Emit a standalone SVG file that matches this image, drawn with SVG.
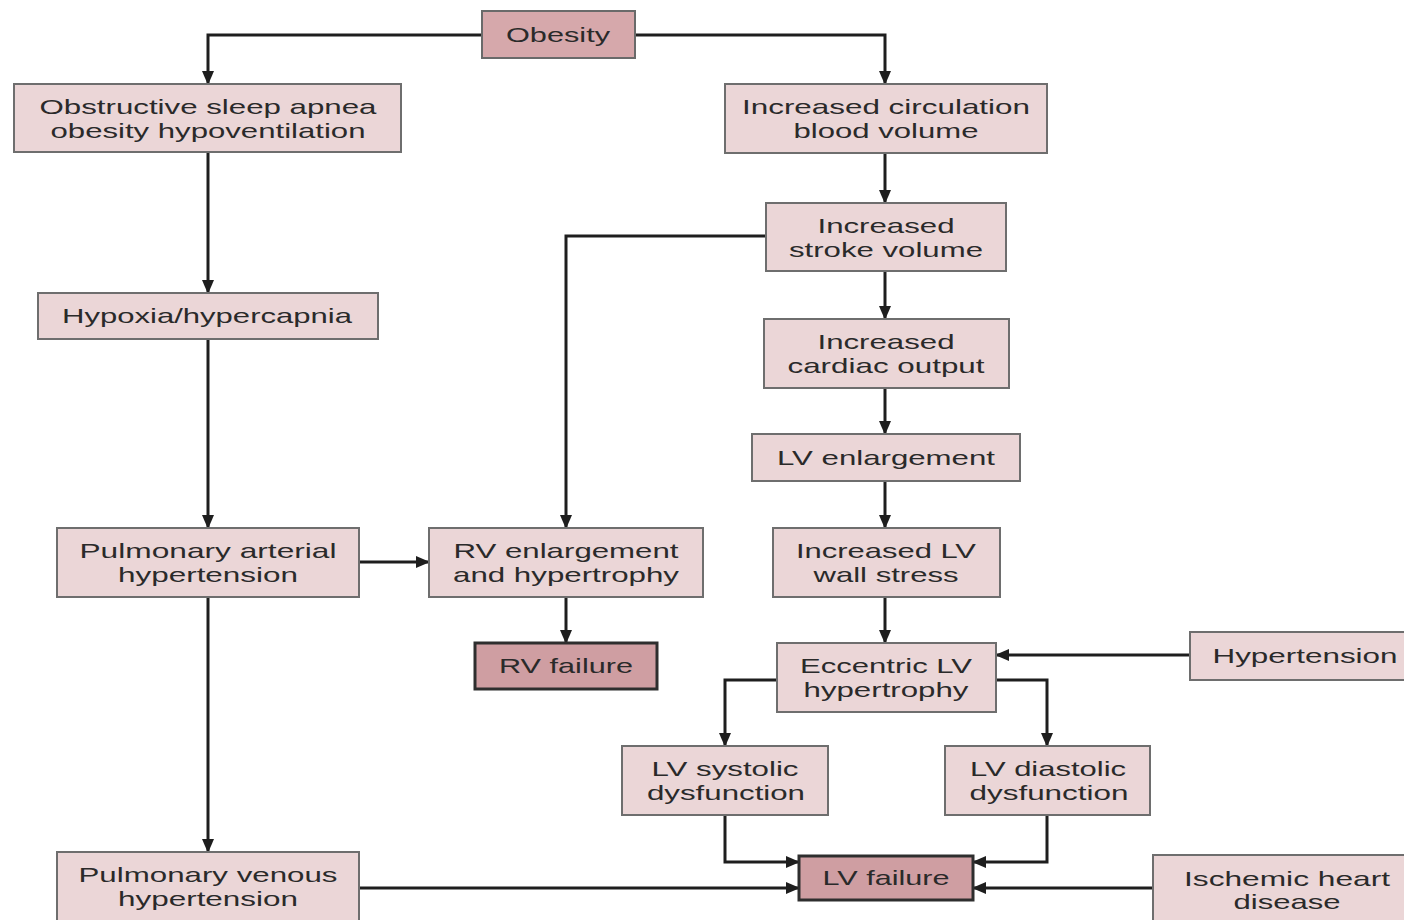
<svg xmlns="http://www.w3.org/2000/svg" width="1404" height="920" viewBox="0 0 1404 920">
<defs>
<marker id="arr" markerWidth="14" markerHeight="12" refX="13" refY="6" orient="auto" markerUnits="userSpaceOnUse">
<path d="M0,0 L14,6 L0,12 Z" fill="#1e1e1e"/>
</marker>
</defs>
<style>
.n rect{fill:#ebd6d7;stroke:#6e6e6e;stroke-width:2}
.n.top rect{fill:#d6a8ab;stroke:#6a6a6a}
.n.fail rect{fill:#cf9ea2;stroke:#2e2e2e;stroke-width:3}
.n text{font-family:"Liberation Sans",Arial,sans-serif;font-size:21px;fill:#2a2a2a;text-anchor:middle}
#connectors path{fill:none;stroke:#1e1e1e;stroke-width:3;marker-end:url(#arr)}
</style>
<rect width="1404" height="920" fill="#ffffff"/>
<g id="connectors">
<path d="M482,35 H208 V84"/>
<path d="M635,35 H885 V84"/>
<path d="M208,152 V293"/>
<path d="M208,339 V528"/>
<path d="M208,597 V852"/>
<path d="M359,562 H429"/>
<path d="M885,153 V203"/>
<path d="M766,236 H566 V528"/>
<path d="M885,271 V319"/>
<path d="M885,388 V434"/>
<path d="M885,481 V528"/>
<path d="M885,597 V643"/>
<path d="M566,597 V643"/>
<path d="M1190,655 H996"/>
<path d="M777,680 H725 V746"/>
<path d="M996,680 H1047 V746"/>
<path d="M725,815 V862 H799"/>
<path d="M1047,815 V862 H973"/>
<path d="M359,888 H799"/>
<path d="M1153,888 H973"/>
</g>
<g id="obesity" class="n top"><rect x="482" y="11" width="153" height="47"/><text x="558" y="42" textLength="104" lengthAdjust="spacingAndGlyphs">Obesity</text></g>
<g id="osa" class="n"><rect x="14" y="84" width="387" height="68"/><text x="208" y="114" textLength="337" lengthAdjust="spacingAndGlyphs">Obstructive sleep apnea</text><text x="208" y="138" textLength="315" lengthAdjust="spacingAndGlyphs">obesity hypoventilation</text></g>
<g id="circ" class="n"><rect x="725" y="84" width="322" height="69"/><text x="886" y="114" textLength="288" lengthAdjust="spacingAndGlyphs">Increased circulation</text><text x="886" y="138" textLength="185" lengthAdjust="spacingAndGlyphs">blood volume</text></g>
<g id="stroke" class="n"><rect x="766" y="203" width="240" height="68"/><text x="886" y="233" textLength="137" lengthAdjust="spacingAndGlyphs">Increased</text><text x="886" y="257" textLength="194" lengthAdjust="spacingAndGlyphs">stroke volume</text></g>
<g id="hypoxia" class="n"><rect x="38" y="293" width="340" height="46"/><text x="207" y="323" textLength="290" lengthAdjust="spacingAndGlyphs">Hypoxia/hypercapnia</text></g>
<g id="co" class="n"><rect x="764" y="319" width="245" height="69"/><text x="886" y="349" textLength="137" lengthAdjust="spacingAndGlyphs">Increased</text><text x="886" y="373" textLength="197" lengthAdjust="spacingAndGlyphs">cardiac output</text></g>
<g id="lvenl" class="n"><rect x="752" y="434" width="268" height="47"/><text x="886" y="465" textLength="218" lengthAdjust="spacingAndGlyphs">LV enlargement</text></g>
<g id="pah" class="n"><rect x="57" y="528" width="302" height="69"/><text x="208" y="558" textLength="257" lengthAdjust="spacingAndGlyphs">Pulmonary arterial</text><text x="208" y="582" textLength="180" lengthAdjust="spacingAndGlyphs">hypertension</text></g>
<g id="rvenl" class="n"><rect x="429" y="528" width="274" height="69"/><text x="566" y="558" textLength="225" lengthAdjust="spacingAndGlyphs">RV enlargement</text><text x="566" y="582" textLength="226" lengthAdjust="spacingAndGlyphs">and hypertrophy</text></g>
<g id="wall" class="n"><rect x="773" y="528" width="227" height="69"/><text x="886" y="558" textLength="180" lengthAdjust="spacingAndGlyphs">Increased LV</text><text x="886" y="582" textLength="145" lengthAdjust="spacingAndGlyphs">wall stress</text></g>
<g id="rvfail" class="n fail"><rect x="475" y="643" width="182" height="46"/><text x="566" y="673" textLength="134" lengthAdjust="spacingAndGlyphs">RV failure</text></g>
<g id="ecc" class="n"><rect x="777" y="643" width="219" height="69"/><text x="886" y="673" textLength="172" lengthAdjust="spacingAndGlyphs">Eccentric LV</text><text x="886" y="697" textLength="165" lengthAdjust="spacingAndGlyphs">hypertrophy</text></g>
<g id="htn" class="n"><rect x="1190" y="632" width="220" height="48"/><text x="1305" y="663" textLength="185" lengthAdjust="spacingAndGlyphs">Hypertension</text></g>
<g id="sys" class="n"><rect x="622" y="746" width="206" height="69"/><text x="725" y="776" textLength="147" lengthAdjust="spacingAndGlyphs">LV systolic</text><text x="726" y="800" textLength="158" lengthAdjust="spacingAndGlyphs">dysfunction</text></g>
<g id="dia" class="n"><rect x="945" y="746" width="205" height="69"/><text x="1048" y="776" textLength="156" lengthAdjust="spacingAndGlyphs">LV diastolic</text><text x="1049" y="800" textLength="159" lengthAdjust="spacingAndGlyphs">dysfunction</text></g>
<g id="pvh" class="n"><rect x="57" y="852" width="302" height="72"/><text x="208" y="882" textLength="259" lengthAdjust="spacingAndGlyphs">Pulmonary venous</text><text x="208" y="906" textLength="180" lengthAdjust="spacingAndGlyphs">hypertension</text></g>
<g id="lvfail" class="n fail"><rect x="799" y="856" width="174" height="44"/><text x="886" y="885" textLength="127" lengthAdjust="spacingAndGlyphs">LV failure</text></g>
<g id="ihd" class="n"><rect x="1153" y="855" width="260" height="70"/><text x="1287" y="886" textLength="206" lengthAdjust="spacingAndGlyphs">Ischemic heart</text><text x="1287" y="909" textLength="107" lengthAdjust="spacingAndGlyphs">disease</text></g>
</svg>
